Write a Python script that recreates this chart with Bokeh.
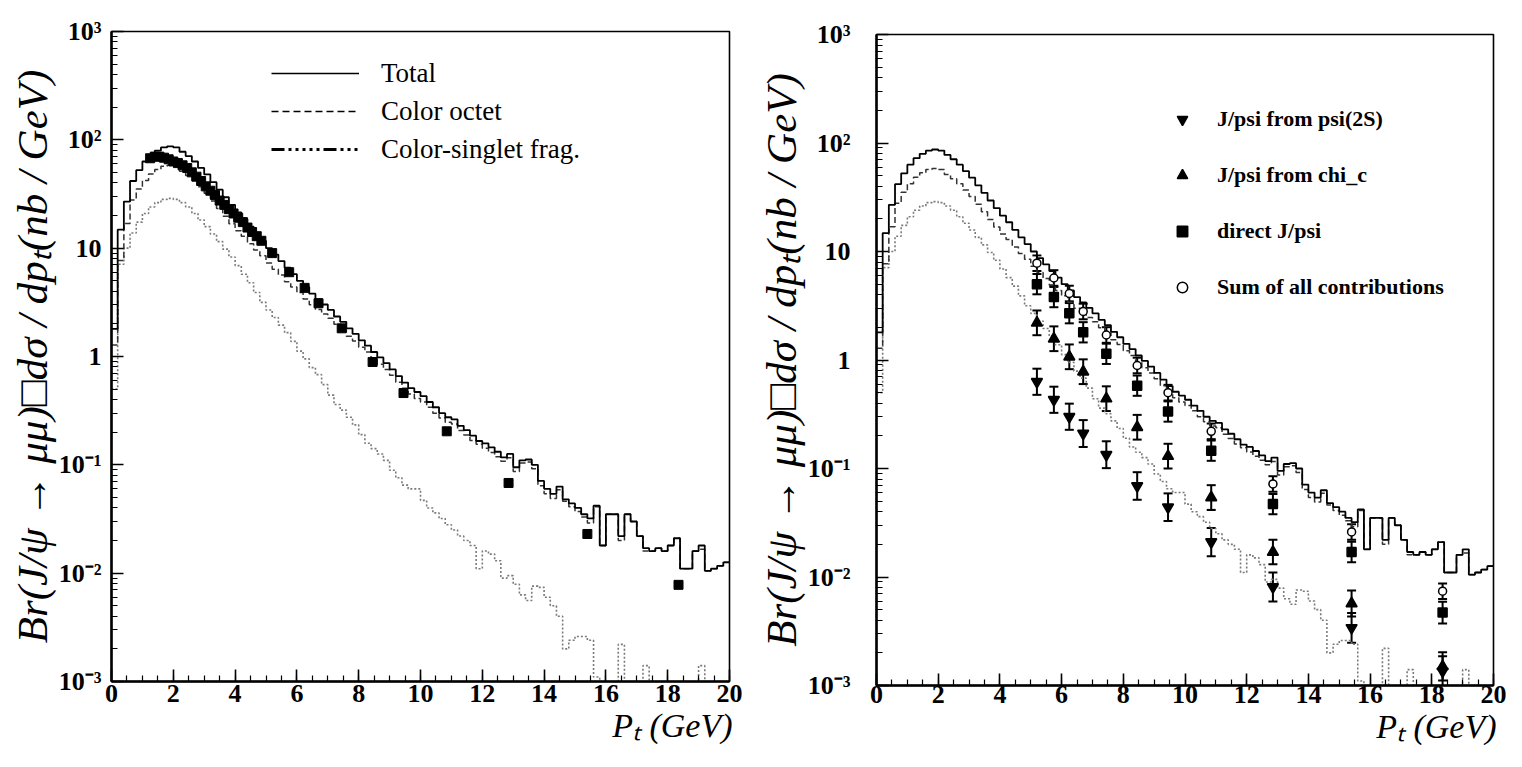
import math
from bokeh.plotting import figure
from bokeh.layouts import row
from bokeh.models import (Range1d, FixedTicker, Legend, LegendItem, Title,
                          Whisker, TeeHead, ColumnDataSource)
from bokeh.embed import file_html
from bokeh.resources import INLINE

# ---------------- data ----------------
bin_width = 0.2  # GeV, histogram bins from 0 to 20

total = [1.8, 14.8, 26.9, 41.7, 52.5, 63.1, 72.4, 79.4, 85.1, 87.1,
         85.1, 77.6, 70.8, 63.1, 55.0, 47.9, 40.7, 34.7, 29.5, 25.1,
         21.4, 18.6, 15.8, 13.5, 11.7, 10.0, 8.7, 7.6, 6.6, 5.75,
         5.0, 4.37, 3.8, 3.39, 3.02, 2.69, 2.34, 2.09, 1.82, 1.62,
         1.41, 1.26, 1.10, 0.98, 0.87, 0.76, 0.66, 0.575, 0.51, 0.47,
         0.43, 0.38, 0.34, 0.30, 0.275, 0.263, 0.229, 0.209, 0.186, 0.166,
         0.158, 0.145, 0.132, 0.117, 0.126, 0.095, 0.110, 0.112, 0.100, 0.071,
         0.060, 0.054, 0.063, 0.048, 0.044, 0.040, 0.035, 0.032, 0.042, 0.018,
         0.035, 0.035, 0.022, 0.035, 0.030, 0.022, 0.017, 0.016, 0.017, 0.016,
         0.018, 0.021, 0.011, 0.011, 0.016, 0.018, 0.0105, 0.011, 0.0117, 0.0126]

octet = [1.28, 7.7, 16.9, 27.9, 35.1, 42.2, 48.4, 53.1, 56.9, 58.3,
         56.9, 51.3, 46.8, 42.2, 36.8, 32.1, 27.2, 23.2, 19.7, 16.8,
         14.5, 12.9, 11.0, 9.6, 8.5, 7.3, 6.4, 5.65, 4.9, 4.37,
         3.9, 3.4, 3.0, 2.71, 2.47, 2.25, 1.98, 1.77, 1.54, 1.39,
         1.22, 1.10, 0.96, 0.85, 0.76, 0.67, 0.58, 0.51, 0.45, 0.41,
         0.38, 0.34, 0.30, 0.27, 0.247, 0.238, 0.207, 0.189, 0.168, 0.155,
         0.142, 0.130, 0.119, 0.108, 0.116, 0.087, 0.104, 0.106, 0.092, 0.064,
         0.054, 0.049, 0.059, 0.046, 0.041, 0.037, 0.033, 0.029, 0.041, 0.018,
         0.035, 0.035, 0.020, 0.035, 0.030, 0.022, 0.016, 0.016, 0.017, 0.016,
         0.018, 0.021, 0.011, 0.011, 0.016, 0.0166, 0.0105, 0.011, 0.0117, 0.0126]

singlet = [0.5, 7.1, 10.0, 13.8, 17.4, 20.9, 24.0, 26.3, 28.2, 28.8,
           28.2, 26.3, 24.0, 20.9, 18.2, 15.8, 13.5, 11.5, 9.8, 8.3,
           6.9, 5.75, 4.8, 3.9, 3.16, 2.69, 2.29, 1.95, 1.66, 1.38,
           1.12, 0.95, 0.79, 0.68, 0.55, 0.44, 0.36, 0.32, 0.275, 0.234,
           0.19, 0.158, 0.141, 0.126, 0.11, 0.089, 0.076, 0.065, 0.060, 0.060,
           0.047, 0.040, 0.036, 0.032, 0.028, 0.025, 0.022, 0.020, 0.018, 0.011,
           0.016, 0.015, 0.013, 0.009, 0.0095, 0.0079, 0.0063, 0.0056, 0.0076, 0.0074,
           0.006, 0.005, 0.004, 0.002, 0.0024, 0.0026, 0.0026, 0.0024, 0.0011, 0,
           0, 0, 0.0022, 0, 0, 0, 0.0014, 0, 0, 0,
           0, 0, 0, 0, 0, 0.0014, 0, 0, 0, 0]

# left panel: black squares
square_pt = [1.25, 1.4, 1.55, 1.7, 1.85, 2.0, 2.15, 2.3, 2.45, 2.6, 2.75, 2.9,
             3.05, 3.2, 3.35, 3.5, 3.65, 3.8, 3.95, 4.1, 4.25, 4.4, 4.55, 4.7,
             4.85, 5.2, 5.75, 6.25, 6.7, 7.45, 8.45, 9.45, 10.85, 12.85, 15.4, 18.35]
square_val = [67.6, 70.0, 70.0, 68.4, 66.1, 63.1, 61.0, 58.2, 55.0, 50.1, 45.7, 41.7,
              37.2, 33.9, 30.9, 27.5, 25.1, 22.9, 20.9, 19.1, 17.4, 15.5, 14.1, 12.9,
              11.7, 9.0, 6.0, 4.3, 3.1, 1.82, 0.89, 0.46, 0.204, 0.068, 0.023, 0.0078]

# right panel: contributions with error bars
point_pt = [5.2, 5.75, 6.25, 6.7, 7.45, 8.45, 9.45, 10.85, 12.85, 15.4, 18.35]
psi2s_val = [0.63, 0.43, 0.30, 0.21, 0.134, 0.069, 0.044, 0.021, 0.0081, 0.0034, 0.00135]
psi2s_err = [0.32, 0.32, 0.32, 0.33, 0.33, 0.34, 0.34, 0.35, 0.36, 0.37, 0.38]
chic_val = [2.2, 1.57, 1.07, 0.78, 0.44, 0.24, 0.13, 0.054, 0.017, 0.0057, 0.0015]
chic_err = [0.30, 0.30, 0.30, 0.30, 0.30, 0.30, 0.30, 0.30, 0.30, 0.32, 0.35]
direct_val = [5.0, 3.8, 2.7, 1.8, 1.14, 0.58, 0.335, 0.146, 0.047, 0.017, 0.0047]
direct_err = [0.24, 0.24, 0.24, 0.24, 0.24, 0.24, 0.24, 0.24, 0.24, 0.24, 0.26]
sum_val = [7.8, 5.7, 4.1, 2.8, 1.7, 0.89, 0.50, 0.22, 0.072, 0.026, 0.0074]
sum_err = [0.18, 0.18, 0.18, 0.18, 0.18, 0.18, 0.18, 0.18, 0.18, 0.18, 0.18]

# axis ticks and titles
x_major = [0, 2, 4, 6, 8, 10, 12, 14, 16, 18, 20]
y_major = [0.001, 0.01, 0.1, 1, 10, 100, 1000]
y_major_labels = ["10\u207b\u00b3", "10\u207b\u00b2", "10\u207b\u00b9", "1", "10",
                  "10\u00b2", "10\u00b3"]
x_title = "P\u209c (GeV)"
y_title = "Br(J/\u03c8 \u2192 \u03bc\u03bc)\u25a1d\u03c3 / dp\u209c(nb / GeV)"

SERIF = "Liberation Serif"
NAN = float("nan")


def hist_xy(vals):
    edges = [i * bin_width for i in range(len(vals) + 1)]
    ys = [v if v > 0 else 1e-6 for v in vals]
    ys.append(ys[-1])
    return edges, ys


def make_panel(width, height, bl, br, bt, bb, ylab_standoff, xlab_standoff,
               ytitle_offset):
    p = figure(width=width, height=height, x_range=Range1d(0, 20),
               y_range=Range1d(1e-3, 1e3), y_axis_type="log",
               output_backend="svg", toolbar_location=None, frame_align=False,
               min_border_left=bl, min_border_right=br,
               min_border_top=bt, min_border_bottom=bb)
    p.xgrid.visible = False
    p.ygrid.visible = False
    p.background_fill_color = "white"
    p.border_fill_color = "white"
    p.outline_line_color = "black"
    p.outline_line_width = 1.6
    p.outline_line_alpha = 1.0

    x_minor = [i * 0.5 for i in range(41)]
    y_minor = [k * 10.0 ** e for e in range(-3, 3) for k in range(2, 10)]

    xa = p.xaxis[0]
    xa.ticker = FixedTicker(ticks=x_major, minor_ticks=x_minor)
    ya = p.yaxis[0]
    ya.ticker = FixedTicker(ticks=y_major, minor_ticks=y_minor)
    ya.major_label_overrides = {t: s for t, s in zip(y_major, y_major_labels)}
    for ax in (xa, ya):
        ax.axis_line_width = 2.5
        ax.axis_line_color = "black"
        ax.major_tick_in = 12
        ax.major_tick_out = 0
        ax.minor_tick_in = 6
        ax.minor_tick_out = 0
        ax.major_tick_line_width = 1.6
        ax.minor_tick_line_width = 1.2
        ax.major_label_text_font = SERIF
        ax.major_label_text_font_style = "bold"
        ax.major_label_text_font_size = "26px"
        ax.major_label_text_color = "black"
    xa.major_label_standoff = xlab_standoff
    ya.major_label_standoff = ylab_standoff

    p.add_layout(Title(text=x_title, align="right", text_font=SERIF,
                       text_font_style="italic", text_font_size="34px",
                       text_color="black", standoff=0, offset=-3), "below")
    p.add_layout(Title(text=y_title, align="center", text_font=SERIF,
                       text_font_style="italic", text_font_size="43px",
                       text_color="black", standoff=0, offset=ytitle_offset), "left")
    return p


def add_curves(p):
    xs, ys = hist_xy(singlet)
    p.step(xs, ys, mode="after", line_color="#7a7a7a", line_dash="2 2", line_width=1.6)
    xs, ys = hist_xy(octet)
    p.step(xs, ys, mode="after", line_color="#333333", line_dash="6 3", line_width=1.5)
    xs, ys = hist_xy(total)
    p.step(xs, ys, mode="after", line_color="black", line_width=1.8)


# ---------------- left panel ----------------
# frame: x 119..737, y 39..689 on the page
left = make_panel(755, 751, 111, 26, 31, 70, 10, 3, -8)
add_curves(left)
left.scatter(square_pt, square_val, marker="square", size=9,
             fill_color="black", line_color="black")

# legend samples (styles as drawn in the legend box)
lg_total = left.line([NAN], [NAN], line_color="black", line_width=1.5)
lg_octet = left.line([NAN], [NAN], line_color="black", line_width=1.5, line_dash="7 4")
lg_single = left.line([NAN], [NAN], line_color="black", line_width=3,
                      line_dash="13 4 3 4 3 4 3 4 3 4 3 4")
leg_l = Legend(items=[LegendItem(label="Total", renderers=[lg_total]),
                      LegendItem(label="Color octet", renderers=[lg_octet]),
                      LegendItem(label="Color-singlet frag.", renderers=[lg_single])],
               location=(160, 516), glyph_width=88, glyph_height=32, spacing=6,
               label_standoff=22, padding=0, margin=0, border_line_color=None,
               background_fill_alpha=0, label_text_font=SERIF,
               label_text_font_size="27px", label_text_color="black")
left.add_layout(leg_l)

# ---------------- right panel ----------------
# frame: x 883..1501, y 42..693 on the page
right = make_panel(751, 751, 120, 13, 34, 66, 26, 0, 6)
add_curves(right)

series = [
    ("J/psi from psi(2S)", psi2s_val, psi2s_err, "inverted_triangle", 11, "black"),
    ("J/psi from chi_c", chic_val, chic_err, "triangle", 11, "black"),
    ("direct J/psi", direct_val, direct_err, "square", 9, "black"),
    ("Sum of all contributions", sum_val, sum_err, "circle", 8, "white"),
]
items = []
for name, vals, errs, marker, size, fill in series:
    src = ColumnDataSource(dict(
        x=point_pt, y=vals,
        upper=[v * (1 + e) for v, e in zip(vals, errs)],
        lower=[v / (1 + e) for v, e in zip(vals, errs)]))
    w = Whisker(source=src, base="x", upper="upper", lower="lower",
                dimension="height", line_color="black", line_width=2,
                upper_head=TeeHead(size=9, line_width=2, line_color="black"),
                lower_head=TeeHead(size=9, line_width=2, line_color="black"),
                level="underlay")
    right.add_layout(w)
    r = right.scatter("x", "y", source=src, marker=marker, size=size,
                      fill_color=fill, line_color="black", line_width=1.5)
    items.append(LegendItem(label=name, renderers=[r]))

leg_r = Legend(items=items, location=(293, 383), glyph_width=26, glyph_height=30,
               spacing=26, label_standoff=22, padding=0, margin=0,
               border_line_color=None, background_fill_alpha=0,
               label_text_font=SERIF, label_text_font_style="bold",
               label_text_font_size="22px", label_text_color="black")
right.add_layout(leg_r)

layout = row(left, right)
open("out.html", "w").write(file_html(layout, INLINE))
